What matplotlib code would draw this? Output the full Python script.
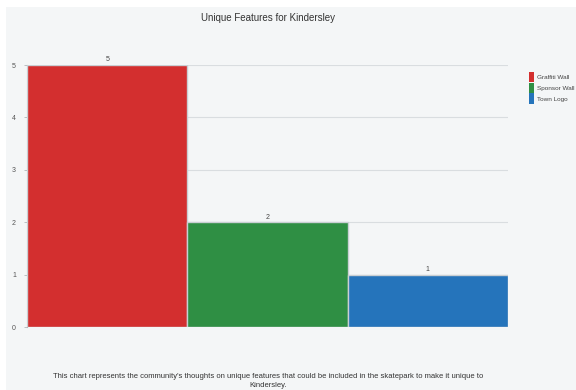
import matplotlib
matplotlib.use("Agg")
import matplotlib.pyplot as plt
from matplotlib.patches import Rectangle, Patch

categories = ["Graffiti Wall", "Sponsor Wall", "Town Logo"]
values = [5, 2, 1]
colors = ["#d32f2f", "#2f8f44", "#2574bb"]
yticks = [0, 1, 2, 3, 4, 5]

plt.rcParams['font.family'] = ['Liberation Sans', 'DejaVu Sans']

fig = plt.figure(figsize=(5.76, 3.90), dpi=100)
fig.patch.set_facecolor("white")
fig.patches.append(Rectangle((6/576, 0), 1 - 6/576, 1 - 7/390, transform=fig.transFigure,
                             facecolor="#f4f6f7", edgecolor="none", zorder=-10))

ax = fig.add_axes([27/576, 63/390, (508-27)/576, (327-65)/390])
ax.set_facecolor("none")
x = list(range(len(categories)))
bars = ax.bar(x, values, width=1.0, color=colors, edgecolor="#c9cfd3", linewidth=1.0, zorder=3)
for xi, v in zip(x, values):
    ax.text(xi, v + 0.03, str(v), ha="center", va="bottom", fontsize=5, color="#444444")

ax.set_xlim(-0.5, 2.5)
ax.set_ylim(0, 5)
ax.set_yticks(yticks)
ax.set_yticklabels([str(t) for t in yticks], fontsize=5, color="#555555")
ax.set_xticks([])
ax.grid(axis="y", color="#d9dde0", linewidth=0.8, zorder=0)
for s in ["top", "right", "bottom"]:
    ax.spines[s].set_visible(False)
ax.spines["left"].set_color("#b0b6ba")
ax.spines["left"].set_linewidth(0.8)
ax.tick_params(axis="y", length=2, width=0.6, color="#b0b6ba", pad=6)

fig.text(268/576, 1 - 18/390, "Unique Features for Kindersley", ha="center", va="center",
         fontsize=7, color="#333333")

handles = [Patch(facecolor=c, edgecolor="none") for c in colors]
leg = fig.legend(handles, categories, loc="upper left", bbox_to_anchor=(526/576, 1 - 69/390),
                 frameon=False, fontsize=4.6, handlelength=0.75, handleheight=2.1,
                 handletextpad=0.5, labelspacing=0.05, borderpad=0)
for t in leg.get_texts():
    t.set_color("#444444")

fig.text(268/576, 1 - 381/390,
         "This chart represents the community's thoughts on unique features that could be included in the skatepark to make it unique to\nKindersley.",
         ha="center", va="center", fontsize=5.5, color="#333333", linespacing=1.25)

fig.savefig("out.png", dpi=100, facecolor=fig.get_facecolor())
